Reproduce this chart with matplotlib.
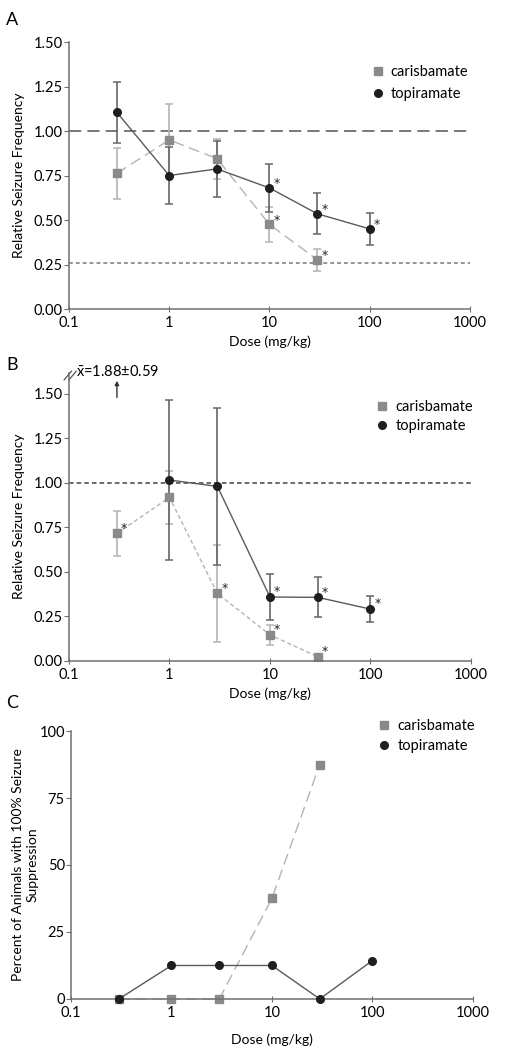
import numpy as np
import matplotlib
matplotlib.use('Agg')
import matplotlib.pyplot as plt
from matplotlib.ticker import FixedLocator, FixedFormatter, NullLocator

plt.rcParams['font.family'] = ['Lato', 'DejaVu Sans']
plt.rcParams['mathtext.fontset'] = 'custom'
plt.rcParams['mathtext.rm'] = 'Lato'
plt.rcParams['mathtext.it'] = 'Lato:italic'

# Datos
dosis = [0.3, 1, 3, 10, 30, 100]
dosis_cari = [0.3, 1, 3, 10, 30]

# Panel A
topi_a = [1.105, 0.75, 0.787, 0.68, 0.535, 0.45]
topi_a_err = [0.17, 0.16, 0.155, 0.137, 0.115, 0.088]
topi_a_sig = [False, False, False, True, True, True]
cari_a = [0.762, 0.95, 0.845, 0.475, 0.277]
cari_a_err = [0.145, 0.2, 0.112, 0.098, 0.062]
cari_a_sig = [False, False, False, True, True]

# Panel B (topiramate 0.3 fuera de escala: 1.88 +/- 0.59)
dosis_topi_b = [1, 3, 10, 30, 100]
topi_b = [1.016, 0.98, 0.358, 0.356, 0.29]
topi_b_err = [0.452, 0.443, 0.13, 0.112, 0.072]
topi_b_sig = [False, False, True, True, True]
cari_b = [0.716, 0.918, 0.378, 0.145, 0.022]
cari_b_err = [0.126, 0.15, 0.272, 0.055, 0.012]
cari_b_sig = [True, False, True, True, True]

# Panel C
topi_c = [0, 12.5, 12.5, 12.5, 0, 14.3]
cari_c = [0, 0, 0, 37.5, 87.5]

xticks = [0.1, 1, 10, 100, 1000]
xlabels = ['0.1', '1', '10', '100', '1000']

c_topi = '#1e1e1e'
c_topi_line = '#5a5a5a'
c_cari = '#8a8a8a'
c_cari_line = '#b4b4b4'
c_spine = '#707070'

fig = plt.figure(figsize=(5.16, 10.5), dpi=100)
ax_a = fig.add_axes([0.1337, 0.7057, 0.777, 0.2543])
ax_b = fig.add_axes([0.1337, 0.3708, 0.779, 0.2743])
ax_c = fig.add_axes([0.1376, 0.0486, 0.7785, 0.2552])


def estilo(ax):
    ax.set_xscale('log')
    ax.set_xlim(0.1, 1000)
    ax.xaxis.set_major_locator(FixedLocator(xticks))
    ax.xaxis.set_major_formatter(FixedFormatter(xlabels))
    ax.xaxis.set_minor_locator(NullLocator())
    for s in ['top', 'right']:
        ax.spines[s].set_visible(False)
    for s in ['left', 'bottom']:
        ax.spines[s].set_color(c_spine)
        ax.spines[s].set_linewidth(1.1)
    ax.tick_params(axis='y', direction='out', length=3.5, color=c_spine, labelsize=10.5, pad=1)
    ax.tick_params(axis='x', direction='inout', length=4, color=c_spine, labelsize=10.5, pad=3)
    ax.set_xlabel('Dose (mg/kg)', fontsize=10, labelpad=4)


def estrellas(ax, xs, ys, sig, dy):
    for x, y, s in zip(xs, ys, sig):
        if s:
            ax.text(x * 1.18, y + dy, '*', fontsize=9, ha='center', va='center',
                    color='#222222', family='DejaVu Sans')


def leyenda(ax, x, y, spacing):
    ax.legend(handles=[
        plt.Line2D([], [], ls='none', marker='s', ms=5.5, color=c_cari, label='carisbamate'),
        plt.Line2D([], [], ls='none', marker='o', ms=5.5, color=c_topi, label='topiramate')],
        loc='upper left', bbox_to_anchor=(x, y), frameon=False, fontsize=10.5,
        handlelength=0.8, handletextpad=0.5, labelspacing=spacing, borderpad=0, borderaxespad=0)


# ---------- Panel A ----------
ax = ax_a
estilo(ax)
ax.set_ylim(0, 1.5)
ax.set_yticks([0, 0.25, 0.5, 0.75, 1.0, 1.25, 1.5])
ax.set_yticklabels(['0.00', '0.25', '0.50', '0.75', '1.00', '1.25', '1.50'])
ax.axhline(1.0, color='#555555', lw=1.1, dashes=(8, 4))
ax.axhline(0.26, color='#777777', lw=1.1, dashes=(2.5, 2))
ax.errorbar(dosis_cari, cari_a, yerr=cari_a_err, color=c_cari_line, ecolor=c_cari_line, lw=1,
            dashes=(8, 4), elinewidth=1.2, capsize=3, capthick=1.1, marker='s', ms=5.5,
            mfc=c_cari, mec=c_cari)
ax.errorbar(dosis, topi_a, yerr=topi_a_err, color=c_topi_line, ecolor='#666666', lw=1,
            elinewidth=1.2, capsize=3, capthick=1.1, marker='o', ms=5.5, mfc=c_topi, mec=c_topi)
estrellas(ax, dosis, topi_a, topi_a_sig, 0.025)
estrellas(ax, dosis_cari, cari_a, cari_a_sig, 0.025)
ax.set_ylabel('Relative Seizure Frequency', fontsize=10)
ax.yaxis.set_label_coords(-0.11, 0.5)
leyenda(ax, 0.755, 0.915, 0.55)
fig.text(0.012, 0.981, 'A', fontsize=13, va='center')

# ---------- Panel B ----------
ax = ax_b
estilo(ax)
ax.set_ylim(0, 1.62)
ax.set_yticks([0, 0.25, 0.5, 0.75, 1.0, 1.25, 1.5])
ax.set_yticklabels(['0.00', '0.25', '0.50', '0.75', '1.00', '1.25', '1.50'])
ax.axhline(1.0, color='#444444', lw=1.1, dashes=(3, 2))
ax.errorbar(dosis_cari, cari_b, yerr=cari_b_err, color=c_cari_line, ecolor=c_cari_line, lw=1,
            dashes=(3, 2), elinewidth=1.2, capsize=3, capthick=1.1, marker='s', ms=5.5,
            mfc=c_cari, mec=c_cari)
ax.errorbar(dosis_topi_b, topi_b, yerr=topi_b_err, color=c_topi_line, ecolor='#666666', lw=1,
            elinewidth=1.2, capsize=3, capthick=1.1, marker='o', ms=5.5, mfc=c_topi, mec=c_topi)
estrellas(ax, dosis_topi_b, topi_b, topi_b_sig, 0.03)
estrellas(ax, dosis_cari, cari_b, cari_b_sig, 0.03)
ax.annotate('', xy=(0.3, 1.59), xytext=(0.3, 1.465), annotation_clip=False,
            arrowprops=dict(arrowstyle='-|>', color='#333333', lw=1, mutation_scale=6))
ax.text(0.118, 1.625, r'$\bar{\mathrm{x}}$=1.88±0.59', fontsize=10.5, va='center', ha='left')
# marcas de corte del eje
for dx in (0.0, 0.012):
    ax.plot([-0.012 + dx, 0.006 + dx], [0.975, 1.005], transform=ax.transAxes,
            color='#555555', lw=0.9, clip_on=False)
ax.set_ylabel('Relative Seizure Frequency', fontsize=10)
ax.yaxis.set_label_coords(-0.11, 0.5)
leyenda(ax, 0.765, 0.905, 0.35)
fig.text(0.012, 0.652, 'B', fontsize=13, va='center')

# ---------- Panel C ----------
ax = ax_c
estilo(ax)
ax.set_ylim(0, 100)
ax.set_yticks([0, 25, 50, 75, 100])
ax.plot(dosis_cari, cari_c, color=c_cari_line, lw=1, dashes=(8, 4), marker='s', ms=5.5,
        mfc=c_cari, mec=c_cari, clip_on=False)
ax.plot(dosis, topi_c, color=c_topi_line, lw=1, marker='o', ms=5.5, mfc=c_topi, mec=c_topi,
        clip_on=False, zorder=3)
ax.set_ylabel('Percent of Animals with 100% Seizure\nSuppression', fontsize=10)
ax.yaxis.set_label_coords(-0.082, 0.5)
ax.xaxis.labelpad = 10
leyenda(ax, 0.765, 1.045, 0.4)
fig.text(0.012, 0.33, 'C', fontsize=13, va='center')

plt.savefig('out.png', dpi=100)
